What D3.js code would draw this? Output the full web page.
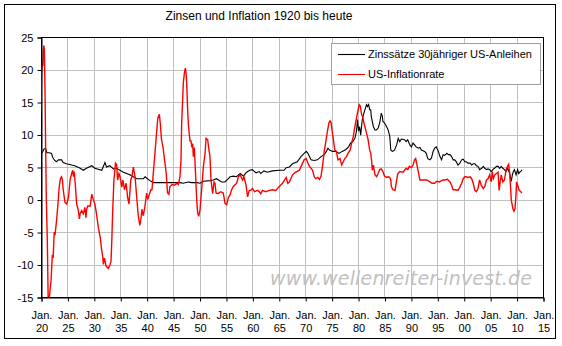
<!DOCTYPE html>
<html><head><meta charset="utf-8">
<script src="https://cdn.jsdelivr.net/npm/d3@7"></script>
<style>body{margin:0;background:#fff;} svg{display:block;font-family:"Liberation Sans",Arial,sans-serif;}</style>
</head><body><svg id="c" width="562" height="346"></svg>
<script>
const titleText = "Zinsen und Inflation 1920 bis heute";
const seriesNames = ["Zinssätze 30jähriger US-Anleihen", "US-Inflationrate"];
const xTickYears = [1920,1925,1930,1935,1940,1945,1950,1955,1960,1965,1970,1975,1980,1985,1990,1995,2000,2005,2010,2015];
const xTickLabels = ["20","25","30","35","40","45","50","55","60","65","70","75","80","85","90","95","00","05","10","15"];
const yTicks = [-15,-10,-5,0,5,10,15,20,25];
const watermark = "www.wellenreiter-invest.de";

// [year, percent]
const bondData = [
[1920.0,7.0],[1920.3,7.3],[1920.6,7.8],[1920.9,7.8],[1921.1,7.2],[1921.6,7.2],[1922.0,7.1],[1922.2,6.5],[1922.6,6.0],[1922.9,5.8],
[1923.3,6.1],[1923.9,6.1],[1924.2,5.7],[1924.8,5.5],[1925.8,5.3],[1926.4,5.2],[1927.4,4.8],[1928.0,4.5],[1928.6,4.8],[1929.6,5.2],
[1930.2,4.8],[1931.5,4.5],[1932.1,5.7],[1932.4,5.0],[1933.0,5.2],[1933.7,4.7],[1934.3,4.8],[1935.6,4.2],[1936.8,3.8],[1938.1,3.2],
[1939.4,3.2],[1939.7,3.5],[1940.6,2.9],[1941.3,2.6],[1946.3,2.6],[1946.9,2.5],[1947.9,2.7],[1948.5,2.6],[1949.5,2.6],[1950.1,2.5],
[1950.7,2.8],[1952.0,2.9],[1952.6,3.0],[1953.2,3.2],[1954.2,2.7],[1954.8,2.7],[1955.45,3.2],[1955.8,3.5],[1956.4,3.6],[1957.0,3.5],
[1957.7,4.0],[1958.3,3.6],[1958.9,4.2],[1959.5,4.5],[1960.0,4.6],[1960.4,4.3],[1960.7,4.1],[1961.3,4.3],[1961.6,4.0],[1962.2,4.4],
[1962.8,4.2],[1963.8,4.4],[1965.1,4.5],[1966.0,4.5],[1966.4,4.9],[1967.0,5.0],[1967.6,5.5],[1968.5,5.8],[1969.2,6.6],[1969.8,7.1],
[1970.2,7.4],[1970.5,7.1],[1970.8,6.6],[1971.1,6.1],[1971.7,6.0],[1972.3,6.1],[1973.0,6.6],[1973.6,6.9],[1974.0,7.4],[1974.3,7.9],
[1974.6,7.6],[1975.2,7.4],[1975.8,7.4],[1976.4,7.1],[1977.0,7.4],[1977.7,7.7],[1978.2,8.1],[1978.6,8.7],[1979.0,8.9],[1979.4,9.4],
[1979.7,10.5],[1979.9,12.3],[1980.1,10.5],[1980.3,11.2],[1980.5,9.9],[1980.8,12.3],[1981.0,13.0],[1981.3,13.8],[1981.6,14.6],[1981.8,14.3],
[1982.0,14.6],[1982.2,13.8],[1982.4,13.8],[1982.5,12.8],[1982.9,11.2],[1983.2,10.7],[1983.5,10.7],[1983.8,11.0],[1984.1,11.8],[1984.4,13.3],
[1984.6,12.8],[1984.7,12.0],[1985.0,11.8],[1985.4,11.2],[1985.7,10.7],[1986.0,9.7],[1986.2,7.6],[1986.5,7.4],[1986.9,7.6],[1987.3,8.4],
[1987.6,9.4],[1987.9,8.9],[1988.2,9.3],[1988.8,9.2],[1989.1,8.9],[1989.4,9.2],[1989.8,8.4],[1990.1,8.1],[1990.4,8.7],[1990.7,8.4],
[1991.0,8.1],[1991.4,7.9],[1991.7,8.0],[1992.0,7.6],[1992.6,7.4],[1992.9,7.1],[1993.2,6.3],[1993.6,6.1],[1993.9,6.4],[1994.2,7.4],
[1994.5,7.9],[1994.8,8.1],[1995.2,7.4],[1995.5,6.6],[1995.8,6.1],[1996.1,6.9],[1996.4,6.8],[1996.8,7.1],[1997.1,6.9],[1997.4,6.9],
[1997.7,6.6],[1998.0,6.1],[1998.3,6.1],[1998.6,5.8],[1998.9,5.3],[1999.2,5.5],[1999.6,6.1],[1999.9,6.2],[2000.2,5.8],[2000.5,5.8],
[2000.8,5.6],[2001.2,5.6],[2001.5,5.3],[2001.8,5.5],[2002.1,5.5],[2002.4,5.2],[2002.7,5.1],[2003.0,4.6],[2003.4,4.8],[2003.7,5.1],
[2004.0,4.8],[2004.3,4.6],[2004.6,4.7],[2004.9,4.6],[2005.2,4.3],[2005.5,4.6],[2005.8,4.8],[2006.2,5.1],[2006.5,5.1],[2006.8,4.8],
[2007.1,5.1],[2007.4,4.8],[2007.7,4.6],[2008.0,4.3],[2008.3,4.8],[2008.7,4.0],[2008.85,3.3],[2009.0,2.8],[2009.2,3.8],[2009.4,4.3],
[2009.6,4.6],[2009.9,3.8],[2010.2,4.6],[2010.4,4.0],[2010.7,4.3],[2010.9,4.4],[2011.0,4.6]
];

const inflData = [
[1920.0,13.5],[1920.1,19.0],[1920.2,21.0],[1920.35,20.5],[1920.45,23.0],[1920.55,23.7],[1920.63,23.0],[1920.76,17.0],[1920.88,8.0],[1921.0,0.3],
[1921.2,-6.5],[1921.35,-15],[1921.6,-15],[1921.7,-14],[1921.9,-12.5],[1922.15,-8.5],[1922.3,-9],[1922.5,-5],[1922.65,-5.5],[1922.97,-3],
[1923.28,0],[1923.45,2],[1923.7,3.3],[1923.9,3.5],[1924.05,3.0],[1924.2,1.5],[1924.55,-0.5],[1924.86,-0.7],[1925.2,0.3],[1925.5,3.0],
[1925.8,4.0],[1926.0,4.5],[1926.15,3.5],[1926.3,4.3],[1926.56,1.5],[1926.75,-0.7],[1927.07,-1.7],[1927.26,-3.0],[1927.4,-2.2],[1927.7,-1.7],
[1928.0,-2.2],[1928.3,-1.2],[1928.5,-2.8],[1928.65,-1.5],[1928.84,-1.0],[1929.3,-1.0],[1929.6,0.8],[1929.9,0],[1930.2,-0.7],[1930.5,-2.2],
[1930.85,-4.3],[1931.2,-5.8],[1931.5,-7.9],[1931.7,-8.9],[1931.8,-10.0],[1932.0,-9.0],[1932.3,-10.2],[1932.75,-10.6],[1933.07,-10.0],[1933.25,-9.5],
[1933.4,-6.3],[1933.57,-1.7],[1933.8,3.0],[1934.1,5.6],[1934.3,5.4],[1934.5,3.0],[1934.75,4.0],[1934.95,3.5],[1935.3,1.9],[1935.5,3.0],
[1935.8,1.5],[1936.1,2.5],[1936.4,0.3],[1936.66,-0.7],[1936.98,3.0],[1937.2,3.5],[1937.47,5.0],[1937.8,3.5],[1938.1,0.5],[1938.4,-2.5],
[1938.7,-4.0],[1938.9,-3.0],[1939.1,-1.5],[1939.36,-2.5],[1939.68,-1.0],[1939.99,1.0],[1940.2,0],[1940.5,0.8],[1940.8,1.5],[1941.0,1.5],
[1941.3,4.5],[1941.6,7.5],[1941.9,10.5],[1942.1,12.5],[1942.4,13.1],[1942.6,11.5],[1942.8,9.2],[1943.1,8.0],[1943.4,6.0],[1943.7,4.0],
[1943.95,1.0],[1944.2,0.8],[1944.4,2.0],[1944.8,2.3],[1945.3,2.2],[1945.7,2.5],[1946.0,2.3],[1946.3,3.5],[1946.49,6.0],[1946.62,11.7],
[1946.93,17.9],[1947.12,19.4],[1947.31,20.2],[1947.45,19.5],[1947.57,17.9],[1947.75,13.8],[1947.9,11.5],[1948.07,10.0],[1948.2,9.0],[1948.39,9.0],
[1948.55,8.0],[1948.7,8.6],[1948.83,6.6],[1949.02,8.0],[1949.27,3.5],[1949.46,0],[1949.65,-2.1],[1949.84,-2.6],[1950.09,-1.6],[1950.4,1.5],
[1950.72,5.0],[1951.04,7.0],[1951.23,9.4],[1951.54,9.2],[1951.79,7.6],[1951.98,6.6],[1952.17,3.0],[1952.49,0.9],[1952.74,2.7],[1952.93,2.5],
[1953.12,1.0],[1953.5,0.9],[1954.0,1.2],[1954.5,1.0],[1954.82,-0.6],[1955.14,-0.8],[1955.45,0.3],[1955.77,0.7],[1956.08,1.5],[1956.4,2.0],
[1957.03,2.5],[1957.35,3.5],[1957.66,3.8],[1958.17,3.0],[1958.4,3.5],[1958.8,2.2],[1959.1,0.4],[1959.4,1.4],[1959.7,1.4],[1960.0,1.7],
[1960.4,1.2],[1961.0,1.4],[1961.3,1.2],[1961.6,0.9],[1961.9,1.4],[1962.5,1.2],[1963.2,1.4],[1963.8,1.5],[1964.4,1.4],[1965.1,2.0],
[1965.7,2.5],[1966.4,3.4],[1966.7,2.5],[1967.0,2.7],[1967.6,3.8],[1968.0,4.1],[1968.4,4.3],[1968.9,4.5],[1969.5,5.6],[1969.8,6.1],
[1970.2,6.3],[1970.5,5.6],[1970.8,5.1],[1971.1,4.8],[1971.4,4.5],[1971.7,3.5],[1972.0,3.2],[1972.4,3.4],[1972.7,3.1],[1973.0,3.6],
[1973.3,5.3],[1973.6,7.4],[1973.9,8.9],[1974.2,10.5],[1974.5,11.8],[1974.7,12.1],[1974.9,11.8],[1975.1,10.5],[1975.3,9.4],[1975.6,7.6],
[1975.9,7.4],[1976.2,6.1],[1976.6,6.3],[1976.9,5.3],[1977.2,5.8],[1977.5,6.3],[1977.8,6.6],[1978.1,7.1],[1978.5,7.6],[1978.8,8.7],
[1979.1,9.7],[1979.4,11.2],[1979.7,12.5],[1980.0,13.8],[1980.2,14.6],[1980.4,14.4],[1980.7,13.0],[1980.9,12.7],[1981.1,11.8],[1981.3,11.2],
[1981.6,10.2],[1981.9,9.2],[1982.2,7.6],[1982.4,7.1],[1982.55,6.1],[1982.7,4.5],[1982.9,5.3],[1983.2,3.8],[1983.5,3.5],[1983.8,4.0],
[1984.1,4.6],[1984.4,4.7],[1984.7,4.3],[1985.0,3.6],[1985.4,3.4],[1985.7,3.5],[1986.0,3.4],[1986.2,3.0],[1986.3,2.0],[1986.6,1.5],
[1987.0,1.4],[1987.3,3.0],[1987.5,3.9],[1987.9,4.3],[1988.5,4.2],[1988.8,4.5],[1989.1,4.8],[1989.4,4.6],[1989.7,5.1],[1990.1,4.9],
[1990.4,5.3],[1990.7,6.1],[1990.9,6.3],[1991.2,5.1],[1991.4,4.3],[1991.7,3.0],[1992.0,3.0],[1992.6,3.0],[1993.0,3.0],[1993.6,2.7],
[1994.0,2.5],[1994.5,2.5],[1994.9,2.8],[1995.4,2.7],[1995.8,2.9],[1996.1,3.0],[1996.4,3.0],[1996.9,3.1],[1997.4,2.7],[1997.7,2.2],
[1998.0,1.5],[1998.5,1.5],[1998.9,1.4],[1999.2,1.8],[1999.6,2.5],[1999.9,3.2],[2000.2,3.5],[2000.5,3.5],[2000.8,3.4],[2001.2,3.5],
[2001.5,3.2],[2001.8,2.5],[2002.1,1.4],[2002.4,1.2],[2002.7,1.7],[2003.0,3.0],[2003.3,2.2],[2003.7,1.7],[2004.0,2.0],[2004.3,3.0],
[2004.6,3.2],[2004.9,3.8],[2005.2,2.7],[2005.4,4.3],[2005.6,3.2],[2005.9,3.8],[2006.2,4.0],[2006.5,4.2],[2006.6,2.7],[2006.7,1.4],
[2006.9,2.7],[2007.1,3.8],[2007.4,2.7],[2007.7,3.0],[2007.9,4.0],[2008.0,4.6],[2008.3,5.1],[2008.5,5.4],[2008.7,4.0],[2008.85,2.0],
[2009.0,-0.1],[2009.3,-1.4],[2009.5,-1.8],[2009.7,-1.4],[2009.9,0.9],[2010.0,2.7],[2010.2,2.2],[2010.5,1.4],[2010.8,1.2],[2011.0,1.0]
];

const svg = d3.select("#c");
const W = 562, H = 346;
const plot = {left: 41, right: 543, top: 37, bottom: 297};
const x = d3.scaleLinear().domain([1920, 2015]).range([plot.left, plot.right]);
const y = d3.scaleLinear().domain([-15, 25]).range([plot.bottom, plot.top]);

svg.append("rect").attr("x",0).attr("y",0).attr("width",W).attr("height",H).attr("fill","#fff");
svg.append("rect").attr("x",4.5).attr("y",4.5).attr("width",551).attr("height",334)
  .attr("fill","none").attr("stroke","#000").attr("stroke-width",1);

// title
svg.append("text").attr("x",259).attr("y",20).attr("text-anchor","middle")
  .attr("font-size","12px").attr("fill","#000").text(titleText);

// grid
const g = svg.append("g");
g.selectAll("line.vg").data(xTickYears.slice(1,-1)).enter().append("line")
  .attr("x1",d=>Math.round(x(d))+0.5).attr("x2",d=>Math.round(x(d))+0.5)
  .attr("y1",plot.top).attr("y2",plot.bottom).attr("stroke","#c0c0c0").attr("stroke-width",1);
g.selectAll("line.hg").data(yTicks.slice(1,-1)).enter().append("line")
  .attr("x1",plot.left).attr("x2",plot.right)
  .attr("y1",d=>Math.round(y(d))+0.5).attr("y2",d=>Math.round(y(d))+0.5)
  .attr("stroke","#c0c0c0").attr("stroke-width",1);

// watermark
svg.append("text").attr("x",270).attr("y",285)
  .attr("font-family","'DejaVu Sans',Verdana,sans-serif").attr("font-style","italic")
  .attr("font-size","19px").attr("fill","#c0c0c0")
  .attr("textLength",262).attr("lengthAdjust","spacing").text(watermark);

// plot border
svg.append("rect").attr("x",plot.left+0.5).attr("y",plot.top+0.5)
  .attr("width",plot.right-plot.left).attr("height",plot.bottom-plot.top)
  .attr("fill","none").attr("stroke","#000").attr("stroke-width",1);

// clip
svg.append("clipPath").attr("id","clip").append("rect")
  .attr("x",plot.left).attr("y",plot.top).attr("width",plot.right-plot.left+1).attr("height",plot.bottom-plot.top+1);

const line = d3.line().x(d=>x(d[0])).y(d=>y(d[1]));
const lines = svg.append("g").attr("clip-path","url(#clip)");
lines.append("path").datum(bondData).attr("d",line).attr("fill","none")
  .attr("stroke","#000").attr("stroke-width",1.1).attr("stroke-linejoin","miter");
lines.append("path").datum(inflData).attr("d",line).attr("fill","none")
  .attr("stroke","#ff0000").attr("stroke-width",1.4).attr("stroke-linejoin","miter");

// y axis
const yAxis = d3.axisLeft(y).tickValues(yTicks).tickSize(4).tickPadding(4).tickFormat(d=>d);
const ya = svg.append("g").attr("transform",`translate(${plot.left+0.5},0.5)`).call(yAxis);
ya.select(".domain").attr("stroke","#000");
ya.selectAll("line").attr("stroke","#000");
ya.selectAll("text").attr("font-size","11px").attr("font-family","'Liberation Sans',Arial,sans-serif").attr("fill","#000");

// x axis
const xAxis = d3.axisBottom(x).tickValues(xTickYears).tickSize(4).tickFormat("");
const xa = svg.append("g").attr("transform",`translate(0.5,${plot.bottom+0.5})`).call(xAxis);
xa.select(".domain").attr("stroke","#000");
xa.selectAll("line").attr("stroke","#000");
xa.selectAll(".tick").each(function(d,i){
  const t = d3.select(this).append("text").attr("fill","#000").attr("font-size","11px")
    .attr("font-family","'Liberation Sans',Arial,sans-serif").attr("text-anchor","middle");
  t.append("tspan").attr("x",0).attr("y",21).text("Jan.");
  t.append("tspan").attr("x",0).attr("y",34).text(xTickLabels[i]);
});

// legend
const lg = svg.append("g");
lg.append("rect").attr("x",331.5).attr("y",43.5).attr("width",209).attr("height",41)
  .attr("fill","#fff").attr("stroke","#a0a0a0").attr("stroke-width",1);
const colors = ["#000","#ff0000"];
seriesNames.forEach((n,i)=>{
  const yy = 54 + i*20;
  lg.append("line").attr("x1",338).attr("x2",365).attr("y1",yy+0.5).attr("y2",yy+0.5)
    .attr("stroke",colors[i]).attr("stroke-width",1.1);
  lg.append("text").attr("x",368).attr("y",yy+4).attr("font-size","11px").attr("fill","#000").text(n);
});
</script></body></html>
